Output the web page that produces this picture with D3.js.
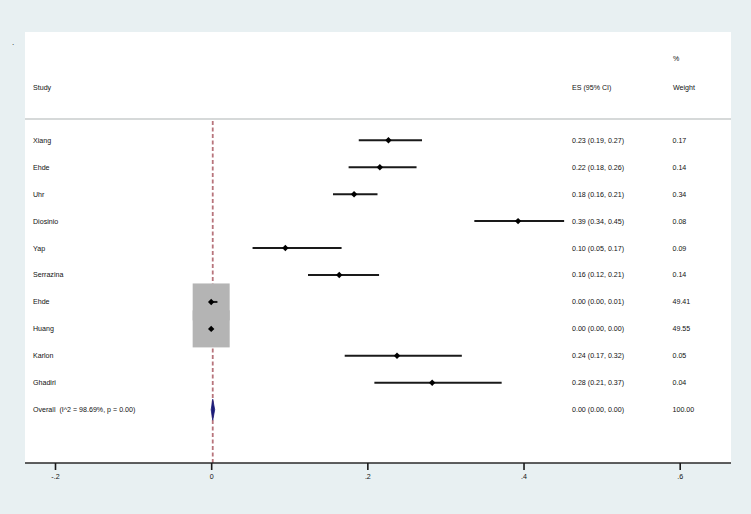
<!DOCTYPE html>
<html>
<head>
<meta charset="utf-8">
<script src="https://cdn.jsdelivr.net/npm/d3@7"></script>
<style>
  html, body { margin: 0; padding: 0; background: #e8f0f2; }
  svg { display: block; }
  text { font-family: "Liberation Sans", Arial, sans-serif; fill: #111; }
</style>
</head>
<body>
<svg id="chart" width="751" height="514"></svg>
<script>
// ---- data ----
const studies = ["Xiang", "Ehde", "Uhr", "Diosinio", "Yap", "Serrazina", "Ehde", "Huang", "Karlon", "Ghadiri"];
const es      = [0.227, 0.216, 0.183, 0.393, 0.095, 0.164, 0.000, 0.000, 0.238, 0.283];
const ciLow   = [0.189, 0.176, 0.156, 0.337, 0.053, 0.124, -0.001, -0.001, 0.171, 0.209];
const ciHigh  = [0.270, 0.263, 0.213, 0.452, 0.167, 0.215, 0.008, 0.001, 0.321, 0.372];
const esText  = ["0.23 (0.19, 0.27)", "0.22 (0.18, 0.26)", "0.18 (0.16, 0.21)", "0.39 (0.34, 0.45)",
                 "0.10 (0.05, 0.17)", "0.16 (0.12, 0.21)", "0.00 (0.00, 0.01)", "0.00 (0.00, 0.00)",
                 "0.24 (0.17, 0.32)", "0.28 (0.21, 0.37)"];
const weights = [0.17, 0.14, 0.34, 0.08, 0.09, 0.14, 49.41, 49.55, 0.05, 0.04];
const weightText = ["0.17", "0.14", "0.34", "0.08", "0.09", "0.14", "49.41", "49.55", "0.05", "0.04"];
const overallLabel = "Overall  (I^2 = 98.69%, p = 0.00)";
const overallES = [0.002, 0.0, 0.0045]; // es, low, high
const overallText = "0.00 (0.00, 0.00)";
const overallWeight = "100.00";
const tickValues = [-0.2, 0, 0.2, 0.4, 0.6];
const tickLabels = ["-.2", "0", ".2", ".4", ".6"];

// ---- layout ----
const svg = d3.select("#chart");
const x = d3.scaleLinear().domain([-0.2, 0.6]).range([55, 679.7]);
const y = d3.scaleLinear().domain([0, 10]).range([140.3, 409.7]);
const box = d3.scaleSqrt().domain([0, 100]).range([0, 52.6]);
const fs = 7.1;

// plot region
svg.append("rect").attr("x", 25).attr("y", 32).attr("width", 706).attr("height", 431).attr("fill", "#ffffff");

svg.append("text").attr("x", 12).attr("y", 45).attr("font-size", 8).text(".");

// header
svg.append("text").attr("x", 673).attr("y", 59).attr("dy", "0.35em").attr("font-size", fs).text("%");
svg.append("text").attr("x", 33).attr("y", 87.3).attr("dy", "0.35em").attr("font-size", fs).text("Study");
svg.append("text").attr("x", 572).attr("y", 87.3).attr("dy", "0.35em").attr("font-size", fs).text("ES (95% CI)");
svg.append("text").attr("x", 673).attr("y", 87.3).attr("dy", "0.35em").attr("font-size", fs).text("Weight");
svg.append("line").attr("x1", 25).attr("x2", 731).attr("y1", 119).attr("y2", 119)
  .attr("stroke", "#c9cccd").attr("stroke-width", 1.5);

// reference dashed line at overall estimate
svg.append("line").attr("x1", x(overallES[0])).attr("x2", x(overallES[0]))
  .attr("y1", 121).attr("y2", 463)
  .attr("stroke", "#b8747c").attr("stroke-width", 1.8).attr("stroke-dasharray", "4,2.5");

const idx = d3.range(studies.length);

// weight boxes
svg.append("g").selectAll("rect").data(idx).join("rect")
  .attr("x", i => x(es[i]) - box(weights[i]) / 2)
  .attr("y", i => y(i) - box(weights[i]) / 2)
  .attr("width", i => box(weights[i]))
  .attr("height", i => box(weights[i]))
  .attr("fill", "#b4b4b4");

// CI lines
svg.append("g").selectAll("line").data(idx).join("line")
  .attr("x1", i => x(ciLow[i])).attr("x2", i => x(ciHigh[i]))
  .attr("y1", i => y(i)).attr("y2", i => y(i))
  .attr("stroke", "#1a1a1a").attr("stroke-width", 2);

// point estimates (small diamonds)
svg.append("g").selectAll("path").data(idx).join("path")
  .attr("d", i => {
    const cx = x(es[i]), cy = y(i), r = 3.2;
    return `M${cx},${cy - r}L${cx + r},${cy}L${cx},${cy + r}L${cx - r},${cy}Z`;
  })
  .attr("fill", "#000");

// overall diamond
{
  const cy = y(10);
  const d = `M${x(overallES[1])},${cy}L${x(overallES[0])},${cy - 10.5}L${x(overallES[2])},${cy}L${x(overallES[0])},${cy + 10.5}Z`;
  svg.append("path").attr("d", d).attr("fill", "#1c1c78").attr("stroke", "#1c1c78").attr("stroke-width", 0.8);
}

// text columns
const tg = svg.append("g").attr("font-size", fs);
tg.selectAll("text.study").data(idx).join("text").attr("class", "study")
  .attr("x", 33).attr("y", i => y(i)).attr("dy", "0.35em").text(i => studies[i]);
tg.selectAll("text.es").data(idx).join("text").attr("class", "es")
  .attr("x", 572).attr("y", i => y(i)).attr("dy", "0.35em").text(i => esText[i]);
tg.selectAll("text.w").data(idx).join("text").attr("class", "w")
  .attr("x", 672.5).attr("y", i => y(i)).attr("dy", "0.35em").text(i => weightText[i]);
tg.append("text").attr("x", 33).attr("y", y(10)).attr("dy", "0.35em").attr("xml:space", "preserve")
  .style("white-space", "pre").text(overallLabel);
tg.append("text").attr("x", 572).attr("y", y(10)).attr("dy", "0.35em").text(overallText);
tg.append("text").attr("x", 672.5).attr("y", y(10)).attr("dy", "0.35em").text(overallWeight);

// x axis
svg.append("line").attr("x1", 25).attr("x2", 731).attr("y1", 463).attr("y2", 463)
  .attr("stroke", "#2a2a2a").attr("stroke-width", 1.6);
const axis = d3.axisBottom(x).tickValues(tickValues).tickSize(7).tickPadding(4)
  .tickFormat((d, i) => tickLabels[i]);
const ag = svg.append("g").attr("transform", "translate(0,463)").call(axis);
ag.select(".domain").remove();
ag.selectAll(".tick line").attr("stroke", "#1a1a1a").attr("stroke-width", 1.6);
ag.selectAll(".tick text").attr("font-size", fs).attr("fill", "#111")
  .attr("font-family", "Liberation Sans, Arial, sans-serif");
</script>
</body>
</html>
